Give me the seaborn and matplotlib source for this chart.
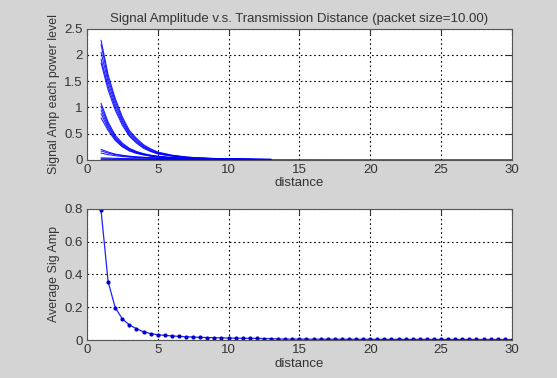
import matplotlib
matplotlib.use("Agg")
import matplotlib.pyplot as plt
from matplotlib.ticker import FuncFormatter
import pandas as pd
import seaborn as sns

# distances sampled for the per-power-level curves
dist = [1, 1.5, 2, 2.5, 3, 3.5, 4, 4.5, 5, 6, 7, 8, 9, 10, 11, 12, 13]

# signal amplitude for each power level
amp_curves = [
    [2.28, 1.62, 1.17, 0.82, 0.56, 0.41, 0.29, 0.21, 0.15, 0.09, 0.055, 0.037, 0.027, 0.02, 0.015, 0.012, 0.01],
    [2.20, 1.55, 1.12, 0.78, 0.53, 0.39, 0.27, 0.20, 0.14, 0.085, 0.052, 0.035, 0.025, 0.019, 0.014, 0.011, 0.009],
    [2.05, 1.48, 1.06, 0.74, 0.50, 0.36, 0.25, 0.18, 0.13, 0.08, 0.05, 0.033, 0.024, 0.018, 0.013, 0.01, 0.008],
    [1.92, 1.40, 1.00, 0.70, 0.47, 0.34, 0.24, 0.17, 0.12, 0.075, 0.047, 0.031, 0.022, 0.017, 0.012, 0.009, 0.008],
    [1.85, 1.33, 0.95, 0.66, 0.45, 0.32, 0.22, 0.16, 0.115, 0.07, 0.044, 0.03, 0.021, 0.016, 0.012, 0.009, 0.007],
    [1.08, 0.72, 0.47, 0.32, 0.22, 0.16, 0.12, 0.09, 0.07, 0.045, 0.03, 0.021, 0.016, 0.012, 0.01, 0.008, 0.006],
    [1.02, 0.68, 0.44, 0.30, 0.21, 0.15, 0.11, 0.085, 0.065, 0.042, 0.028, 0.02, 0.015, 0.011, 0.009, 0.007, 0.006],
    [0.95, 0.64, 0.42, 0.28, 0.20, 0.14, 0.105, 0.08, 0.06, 0.04, 0.027, 0.019, 0.014, 0.011, 0.009, 0.007, 0.005],
    [0.88, 0.60, 0.39, 0.26, 0.18, 0.13, 0.10, 0.075, 0.057, 0.037, 0.025, 0.018, 0.013, 0.01, 0.008, 0.006, 0.005],
    [0.80, 0.56, 0.37, 0.25, 0.17, 0.125, 0.095, 0.07, 0.054, 0.035, 0.024, 0.017, 0.012, 0.01, 0.008, 0.006, 0.005],
    [0.20, 0.15, 0.11, 0.088, 0.07, 0.058, 0.05, 0.042, 0.036, 0.028, 0.021, 0.016, 0.013, 0.01, 0.008, 0.007, 0.006],
    [0.17, 0.13, 0.10, 0.08, 0.064, 0.053, 0.045, 0.038, 0.033, 0.025, 0.019, 0.015, 0.012, 0.009, 0.008, 0.006, 0.005],
    [0.13, 0.10, 0.08, 0.065, 0.053, 0.045, 0.038, 0.033, 0.029, 0.022, 0.017, 0.013, 0.01, 0.008, 0.007, 0.006, 0.005],
    [0.04, 0.035, 0.03, 0.027, 0.024, 0.022, 0.02, 0.018, 0.016, 0.013, 0.011, 0.009, 0.008, 0.007, 0.006, 0.005, 0.004],
    [0.02, 0.018, 0.016, 0.015, 0.014, 0.013, 0.012, 0.011, 0.01, 0.009, 0.008, 0.007, 0.006, 0.005, 0.005, 0.004, 0.004],
]

# lowest levels are logged out to the full range
tail_dist = [1, 5, 10, 15, 20, 25, 30]
tail_amp = [0.01, 0.006, 0.004, 0.003, 0.002, 0.002, 0.002]

# average amplitude, every 0.5 from 1 to 30
avg_dist = [1 + 0.5 * i for i in range(59)]
avg_amp = [
    0.79, 0.355, 0.197, 0.129, 0.092, 0.069, 0.05, 0.039, 0.032, 0.028,
    0.025, 0.022, 0.02, 0.018, 0.016, 0.015, 0.014, 0.013, 0.012, 0.011,
    0.0105, 0.01, 0.0095, 0.009, 0.0085, 0.006, 0.0058, 0.0056, 0.0054, 0.0052,
    0.005, 0.0049, 0.0048, 0.0047, 0.0046, 0.0045, 0.0044, 0.0043, 0.0042, 0.0041,
    0.004, 0.004, 0.0039, 0.0039, 0.0038, 0.0038, 0.0037, 0.0037, 0.0036, 0.0036,
    0.0035, 0.0035, 0.0034, 0.0034, 0.0033, 0.0033, 0.0032, 0.0032, 0.0031,
]


def style_axes(ax):
    ax.set_facecolor("white")
    ax.grid(True, color="black", linestyle=(0, (1.5, 2.5)), linewidth=0.8)
    ax.tick_params(direction="in", length=4, top=True, right=True,
                   labelsize=9.5, colors="#333333", pad=3)
    for s in ax.spines.values():
        s.set_color("#555555")
        s.set_linewidth(0.8)
    ax.yaxis.set_major_formatter(FuncFormatter(lambda v, p: f"{v:g}"))
    ax.set_xlim(0, 30)
    ax.set_xticks([0, 5, 10, 15, 20, 25, 30])


def main():
    sns.set_style("white")
    plt.rcParams["font.family"] = ["Liberation Sans", "DejaVu Sans"]

    fig = plt.figure(figsize=(5.57, 3.78), dpi=100)
    fig.patch.set_facecolor("#d4d4d4")

    ax1 = fig.add_axes([0.156, 0.577, 0.763, 0.347])
    ax2 = fig.add_axes([0.156, 0.1005, 0.763, 0.347])

    rows = []
    for i, curve in enumerate(amp_curves):
        for d, a in zip(dist, curve):
            rows.append({"curve": i, "distance": d, "amp": a})
    for d, a in zip(tail_dist, tail_amp):
        rows.append({"curve": len(amp_curves), "distance": d, "amp": a})
    df = pd.DataFrame(rows)

    sns.lineplot(data=df, x="distance", y="amp", units="curve", estimator=None,
                 color="#0000ff", linewidth=0.8, alpha=0.85, ax=ax1, sort=False)
    style_axes(ax1)
    ax1.set_ylim(0, 2.5)
    ax1.set_yticks([0, 0.5, 1, 1.5, 2, 2.5])
    ax1.set_title("Signal Amplitude v.s. Transmission Distance (packet size=10.00)",
                  fontsize=9.5, color="#333333", pad=5)
    ax1.set_xlabel("distance", fontsize=9.5, color="#333333", labelpad=1)
    ax1.set_ylabel("Signal Amp each power level", fontsize=8.9, color="#333333", labelpad=3)

    avg = pd.DataFrame({"distance": avg_dist, "amp": avg_amp})
    sns.lineplot(data=avg, x="distance", y="amp", color="#2020ff", linewidth=0.9,
                 marker="o", markersize=3, markeredgewidth=0, markerfacecolor="#0000cc",
                 ax=ax2)
    style_axes(ax2)
    ax2.set_ylim(0, 0.8)
    ax2.set_yticks([0, 0.2, 0.4, 0.6, 0.8])
    ax2.set_xlabel("distance", fontsize=9.5, color="#333333", labelpad=1)
    ax2.set_ylabel("Average Sig Amp", fontsize=8.9, color="#333333", labelpad=3)

    fig.savefig("out.png", dpi=100, facecolor=fig.get_facecolor())
    plt.close(fig)


if __name__ == "__main__":
    main()
